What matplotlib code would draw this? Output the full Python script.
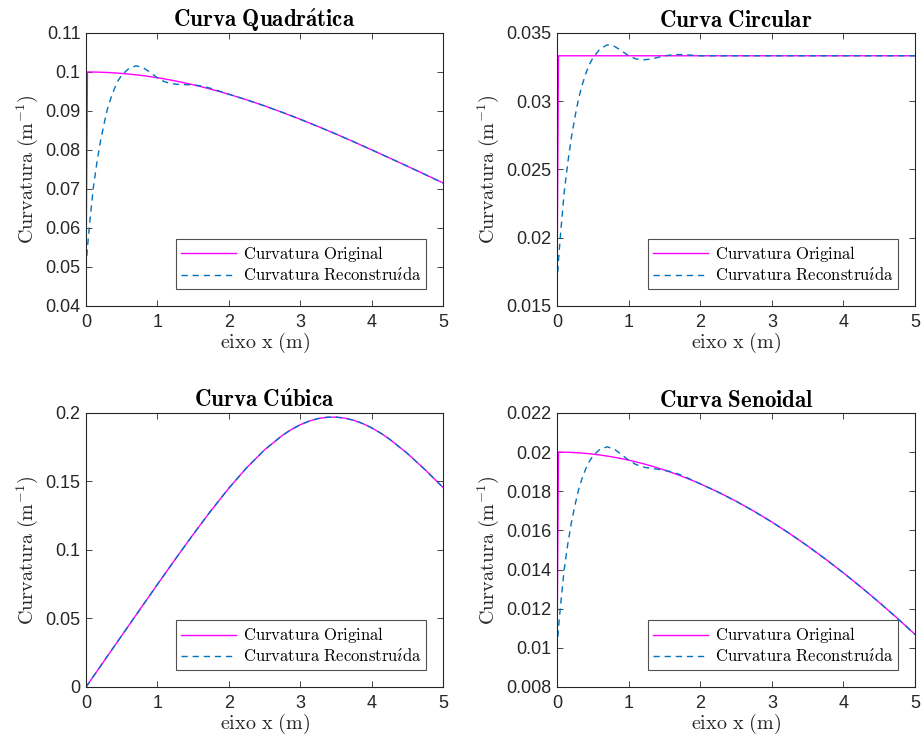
import matplotlib
matplotlib.use("Agg")
import matplotlib.pyplot as plt

plt.rcParams["mathtext.fontset"] = "cm"
plt.rcParams["font.family"] = ["Liberation Sans", "DejaVu Sans"]

# eixo x comum para as curvas com transiente
x_grid = [0, 0.02, 0.05, 0.1, 0.15, 0.2, 0.25, 0.3, 0.35, 0.4, 0.45, 0.5, 0.6, 0.7,
          0.8, 0.9, 1.0, 1.1, 1.2, 1.3, 1.4, 1.5, 1.6, 1.7, 1.8, 1.9, 2.0, 2.25, 2.5,
          2.75, 3.0, 3.25, 3.5, 3.75, 4.0, 4.25, 4.5, 4.75, 5.0]

quad_orig = [0.05, 0.1, 0.1, 0.09999, 0.09997, 0.09994, 0.09991, 0.09987, 0.09982,
             0.09976, 0.09970, 0.09963, 0.09946, 0.09927, 0.09905, 0.09880, 0.09852,
             0.09822, 0.09788, 0.09752, 0.09713, 0.09672, 0.09628, 0.09582, 0.09533,
             0.09482, 0.09429, 0.09286, 0.09131, 0.08964, 0.08787, 0.08602, 0.08409,
             0.08209, 0.08004, 0.07795, 0.07584, 0.07370, 0.07155]
quad_rec = [0.05, 0.055, 0.061, 0.0700, 0.0765, 0.0820, 0.0865, 0.0905, 0.0934,
            0.0958, 0.0978, 0.0992, 0.1009, 0.1016, 0.1011, 0.0999, 0.0985, 0.0975,
            0.0970, 0.0968, 0.09675, 0.09667, 0.09647, 0.09605, 0.09551, 0.09491,
            0.09429, 0.09286, 0.09131, 0.08964, 0.08787, 0.08602, 0.08409, 0.08209,
            0.08004, 0.07795, 0.07584, 0.07370, 0.07155]

circ_orig = [0.01667] + [0.03333] * 38
circ_rec = [0.01667, 0.01833, 0.02033, 0.02333, 0.02550, 0.02733, 0.02883, 0.03017,
            0.03117, 0.03200, 0.03267, 0.03317, 0.03383, 0.03413, 0.03403, 0.03370,
            0.03333, 0.03310, 0.03303, 0.03308, 0.03320, 0.03332, 0.03340, 0.03342,
            0.03340, 0.03337] + [0.03333] * 13

sen_orig = [0.01, 0.02, 0.02, 0.019996, 0.019991, 0.019984, 0.019974, 0.019963,
            0.019950, 0.019934, 0.019917, 0.019897, 0.019852, 0.019798, 0.019737,
            0.019667, 0.019590, 0.019504, 0.019410, 0.019309, 0.019199, 0.019082,
            0.018957, 0.018824, 0.018683, 0.018535, 0.018379, 0.017958, 0.017492,
            0.016981, 0.016428, 0.015835, 0.015202, 0.014533, 0.013827, 0.013089,
            0.012318, 0.011519, 0.010686]
sen_rec = [0.01, 0.011, 0.0122, 0.01400, 0.01530, 0.01639, 0.01728, 0.01807, 0.01866,
           0.01914, 0.01952, 0.01980, 0.02015, 0.02027, 0.02015, 0.01988, 0.01959,
           0.01937, 0.01924, 0.01917, 0.01913, 0.01907, 0.01899, 0.01887, 0.01872,
           0.01855, 0.01838, 0.017958, 0.017492, 0.016981, 0.016428, 0.015835,
           0.015202, 0.014533, 0.013827, 0.013089, 0.012318, 0.011519, 0.010686]

x_cub = [0, 0.25, 0.5, 0.75, 1.0, 1.25, 1.5, 1.75, 2.0, 2.25, 2.5, 2.75, 2.875, 3.0,
         3.125, 3.25, 3.375, 3.5, 3.625, 3.75, 3.875, 4.0, 4.125, 4.25, 4.5, 4.75, 5.0]
cub_orig = [0, 0.01875, 0.03750, 0.05621, 0.07484, 0.09327, 0.11131, 0.12870, 0.14508,
            0.16002, 0.17305, 0.18366, 0.18790, 0.19139, 0.19406, 0.19589, 0.19686,
            0.19697, 0.19622, 0.19465, 0.19227, 0.18916, 0.18535, 0.18091, 0.17048,
            0.15850, 0.14561]
cub_rec = [0, 0.01875, 0.03750, 0.05621, 0.07484, 0.09327, 0.11131, 0.12870, 0.14508,
           0.16002, 0.17305, 0.18366, 0.18790, 0.19139, 0.19406, 0.19589, 0.19686,
           0.19697, 0.19622, 0.19465, 0.19227, 0.18916, 0.18535, 0.18091, 0.17048,
           0.15850, 0.14561]

panels = [
    ("Curva\\ Quadr\\acute{a}tica", x_grid, quad_orig, quad_rec,
     (0.04, 0.11), [0.04, 0.05, 0.06, 0.07, 0.08, 0.09, 0.1, 0.11],
     ["0.04", "0.05", "0.06", "0.07", "0.08", "0.09", "0.1", "0.11"]),
    ("Curva\\ Circular", x_grid, circ_orig, circ_rec,
     (0.015, 0.035), [0.015, 0.02, 0.025, 0.03, 0.035],
     ["0.015", "0.02", "0.025", "0.03", "0.035"]),
    ("Curva\\ C\\acute{u}bica", x_cub, cub_orig, cub_rec,
     (0, 0.2), [0, 0.05, 0.1, 0.15, 0.2],
     ["0", "0.05", "0.1", "0.15", "0.2"]),
    ("Curva\\ Senoidal", x_grid, sen_orig, sen_rec,
     (0.008, 0.022), [0.008, 0.01, 0.012, 0.014, 0.016, 0.018, 0.02, 0.022],
     ["0.008", "0.01", "0.012", "0.014", "0.016", "0.018", "0.02", "0.022"]),
]

positions = [
    [0.0932, 0.5882, 0.3868, 0.3674],
    [0.6035, 0.5882, 0.3879, 0.3674],
    [0.0932, 0.0754, 0.3868, 0.3688],
    [0.6035, 0.0754, 0.3879, 0.3688],
]

axcol = "#262626"
fig = plt.figure(figsize=(9.23, 7.43), dpi=100)

for (title, xs, orig, rec, ylim, yt, ytl), pos in zip(panels, positions):
    ax = fig.add_axes(pos)
    ax.plot(xs, orig, color="#FF00FF", lw=1.0, label=r"$\mathrm{Curvatura\ Original}$")
    ax.plot(xs, rec, color="#0072BD", lw=1.0, ls=(0, (4.5, 3.5)),
            label=r"$\mathrm{Curvatura\ Reconstru\acute{\imath}da}$")
    ax.set_xlim(0, 5)
    ax.set_ylim(*ylim)
    ax.set_xticks([0, 1, 2, 3, 4, 5])
    ax.set_yticks(yt)
    ax.set_yticklabels(ytl)
    ax.tick_params(direction="in", top=True, right=True, length=4, width=0.6,
                   labelsize=13, colors=axcol)
    ax.tick_params(axis="x", pad=6)
    ax.tick_params(axis="y", pad=4)
    for s in ax.spines.values():
        s.set_color(axcol)
        s.set_linewidth(0.8)
    ax.set_title(r"$\mathbf{" + title + "}$", fontsize=16.5, pad=4, color="black")
    ax.set_xlabel(r"$\mathrm{eixo\ x\ (m)}$", fontsize=14.5, color=axcol, labelpad=0)
    ax.set_ylabel(r"$\mathrm{Curvatura\ (m^{-1})}$", fontsize=14.5, color=axcol,
                  labelpad=4)
    leg = ax.legend(loc="lower right", fontsize=12, frameon=True, fancybox=False,
                    edgecolor=axcol, handlelength=3.3, handletextpad=0.4,
                    borderaxespad=1.0, labelspacing=0.15, borderpad=0.3)
    leg.get_frame().set_linewidth(0.8)

fig.savefig("out.png", dpi=100)
